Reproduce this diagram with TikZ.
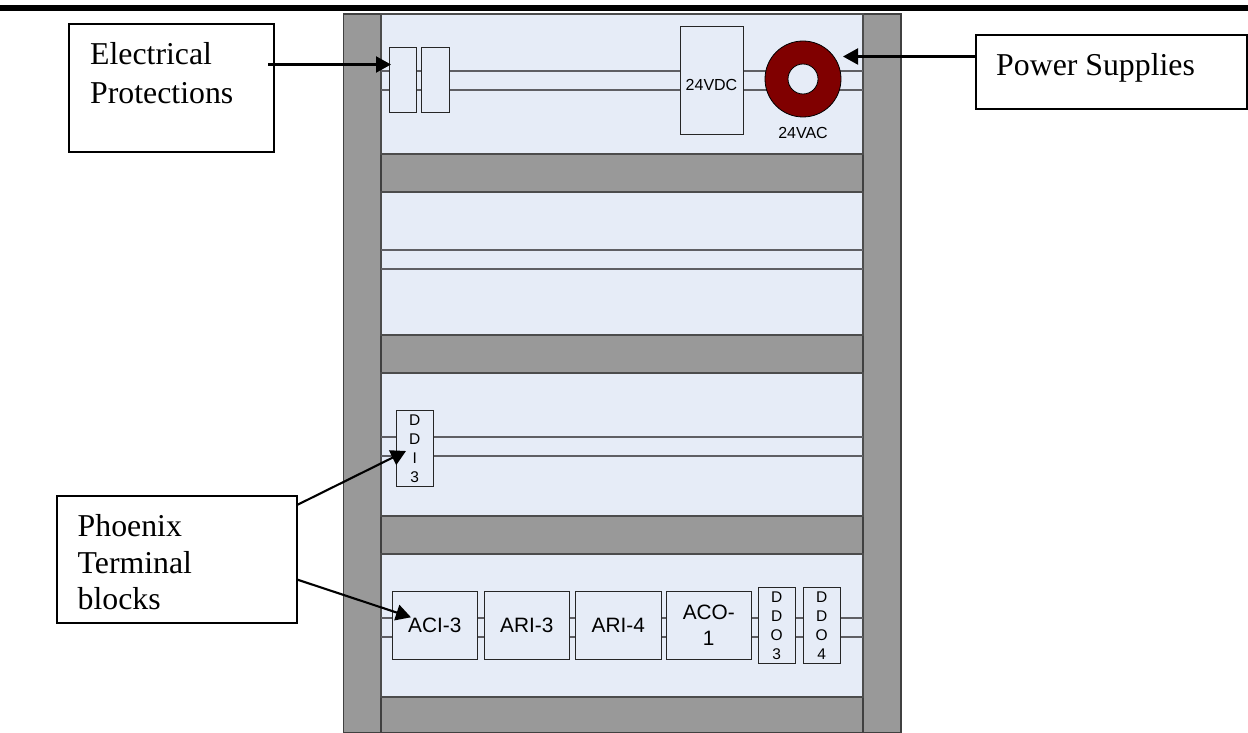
\documentclass[tikz,border=0pt]{standalone}
\usepackage{fontspec}
\setmainfont{Liberation Serif}
\setsansfont{Liberation Sans}
\usetikzlibrary{arrows.meta}
\definecolor{panelblue}{RGB}{230,236,247}
\definecolor{railgray}{RGB}{153,153,153}
\definecolor{wire}{RGB}{95,95,100}
\definecolor{toroid}{RGB}{128,0,0}
\tikzset{
  x=1pt,y=-1pt,
  rail/.style={draw=black!75,line width=1.1pt,fill=railgray},
  panel/.style={draw=black!70,line width=1.1pt,fill=panelblue},
  wireline/.style={draw=wire,line width=1.3pt},
  block/.style={draw=black!85,line width=1pt,fill=panelblue,inner sep=0pt,align=center},
  bigblock/.style={block,minimum width=85.5pt,minimum height=68pt,font=\sffamily\fontsize{20.8}{26}\selectfont},
  tallblock/.style={block,minimum width=37.5pt,minimum height=75.5pt,font=\sffamily\fontsize{15.5}{19}\selectfont},
  fuse/.style={block,minimum width=27.5pt,minimum height=65pt},
  smalltext/.style={font=\sffamily\fontsize{16}{19}\selectfont},
  calloutbox/.style={draw=black,line width=1.8pt,fill=white,inner sep=0pt},
  callouttext/.style={inner sep=0pt,anchor=north west,align=left},
  pointer/.style={draw=black,line width=2.1pt,-{Triangle[length=15pt,width=16pt]}}
}
\begin{document}
\begin{tikzpicture}
\useasboundingbox (0,0) rectangle (1248,733);
% top rule
\fill[black] (0,5) rectangle (1248,11);
% rails
\draw[rail] (343.5,14) rectangle (381,733);
\draw[rail] (863,14) rectangle (901,733);
% bands and panels
\draw[rail] (381,154) rectangle (863,192);
\draw[rail] (381,335) rectangle (863,373);
\draw[rail] (381,516) rectangle (863,554);
\draw[rail] (381,697) rectangle (863,733);
\draw[panel] (381,14) rectangle (863,154);
\draw[panel] (381,192) rectangle (863,335);
\draw[panel] (381,373) rectangle (863,516);
\draw[panel] (381,554) rectangle (863,697);
% wire ends
\coordinate (wa1) at (381,71); \coordinate (wb1) at (863,71);
\coordinate (wa2) at (381,90); \coordinate (wb2) at (863,90);
\coordinate (wa3) at (381,250); \coordinate (wb3) at (863,250);
\coordinate (wa4) at (381,269); \coordinate (wb4) at (863,269);
\coordinate (wa5) at (381,437); \coordinate (wb5) at (863,437);
\coordinate (wa6) at (381,456); \coordinate (wb6) at (863,456);
\coordinate (wa7) at (381,618); \coordinate (wb7) at (863,618);
\coordinate (wa8) at (381,637); \coordinate (wb8) at (863,637);
\foreach \i in {1,...,8} {\draw[wireline] (wa\i) -- (wb\i);}
% top row
\node[fuse] (f1) at (402.75,80.5) {};
\node[fuse] (f2) at (435.25,80.5) {};
\node[block,minimum width=63pt,minimum height=108pt,smalltext] (dc) at (711.5,81) {\raisebox{-10pt}[0pt][0pt]{24VDC}};
\node[circle,draw=black,line width=.8pt,fill=toroid,minimum size=76pt,inner sep=0pt] (ac) at (803,79) {};
\node[circle,draw=black,line width=.8pt,fill=panelblue,minimum size=30pt,inner sep=0pt] (achole) at (803,79) {};
\node[smalltext,inner sep=0pt] (aclabel) at (803,132.5) {24VAC};
% DDI-3
\node[tallblock] (ddi) at (414.75,448.25) {D\\D\\I\\3};
% bottom row
\node[bigblock] (aci) at (434.75,625) {\raisebox{-7pt}[0pt][0pt]{ACI-3}};
\node[bigblock] (ari3) at (526.75,625) {\raisebox{-7pt}[0pt][0pt]{ARI-3}};
\node[bigblock] (ari4) at (618.25,625) {\raisebox{-7pt}[0pt][0pt]{ARI-4}};
\node[bigblock] (aco) at (708.75,625) {ACO-\\1};
\node[tallblock] (ddo3) at (776.75,625.25) {D\\D\\O\\3};
\node[tallblock] (ddo4) at (821.75,625.25) {D\\D\\O\\4};
% callouts
\node[calloutbox,minimum width=205pt,minimum height=128pt] (ep) at (171.5,88) {};
\node[callouttext,font=\fontsize{31.8}{39}\selectfont] (eptext) at (90,42.3) {Electrical\\Protections};
\node[calloutbox,minimum width=271pt,minimum height=74pt] (ps) at (1111.3,72) {};
\node[callouttext,font=\fontsize{31.8}{39}\selectfont] (pstext) at (996,53.3) {Power Supplies};
\node[calloutbox,minimum width=240pt,minimum height=127pt] (pt) at (177,559.5) {};
\node[callouttext,font=\fontsize{31.8}{36.5}\selectfont] (pttext) at (77.5,514.3) {Phoenix\\Terminal\\blocks};
% pointers
\coordinate (epS) at (268,64.5);  \coordinate (epE) at (391,64.5);
\coordinate (psS) at (975,56.5);  \coordinate (psE) at (843,56.5);
\coordinate (pt1S) at (297,505); \coordinate (pt1E) at (406,451);
\coordinate (pt2S) at (297,579.5); \coordinate (pt2E) at (411,617.3);
\draw[pointer] (epS) -- (epE);
\draw[pointer] (psS) -- (psE);
\draw[pointer] (pt1S) -- (pt1E);
\draw[pointer] (pt2S) -- (pt2E);
\end{tikzpicture}
\end{document}
